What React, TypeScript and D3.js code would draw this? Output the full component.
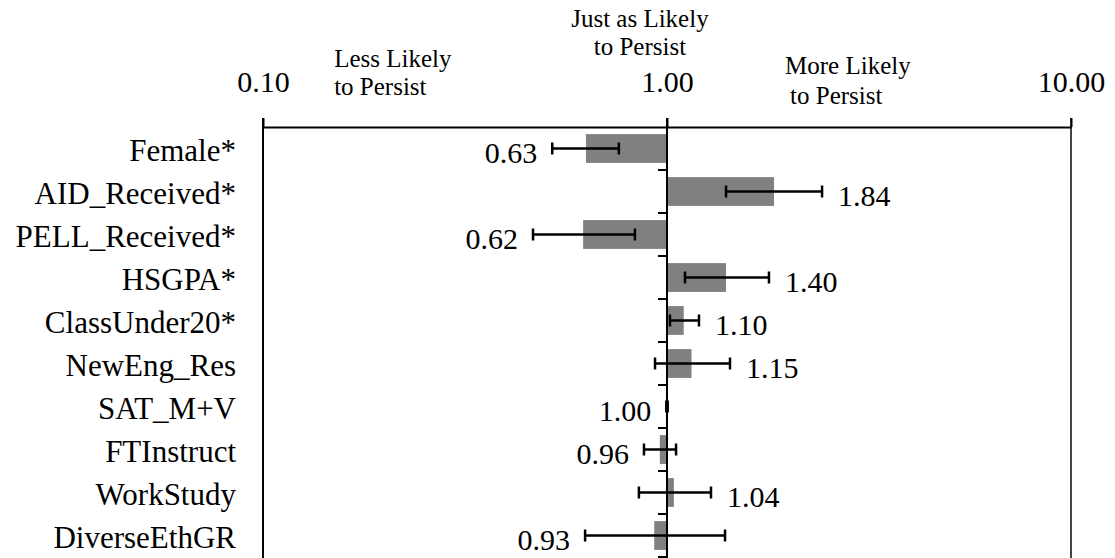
import { useEffect, useRef } from "react";
import * as d3 from "d3";

const categories = [
  "Female*",
  "AID_Received*",
  "PELL_Received*",
  "HSGPA*",
  "ClassUnder20*",
  "NewEng_Res",
  "SAT_M+V",
  "FTInstruct",
  "WorkStudy",
  "DiverseEthGR",
];
const oddsRatios = [0.63, 1.84, 0.62, 1.4, 1.1, 1.15, 1.0, 0.96, 1.04, 0.93];
const ciLow = [0.52, 1.4, 0.466, 1.108, 1.017, 0.934, 0.996, 0.877, 0.852, 0.627];
const ciHigh = [0.76, 2.42, 0.833, 1.788, 1.2, 1.432, 1.004, 1.053, 1.285, 1.392];
const tickValues = [0.1, 1, 10];

const annotations = [
  { lines: ["Less Likely", "to Persist"], at: 0.15, anchor: "start", top: 67, gap: 28, indent: 0 },
  { lines: ["Just as Likely", "to Persist"], at: 0.857, anchor: "middle", top: 27, gap: 28, indent: 0 },
  { lines: ["More Likely", "to Persist"], at: 1.96, anchor: "start", top: 74, gap: 30, indent: 5 },
];

const FONT = "'Liberation Serif', 'Times New Roman', serif";

export default function App() {
  const svgRef = useRef<SVGSVGElement>(null);
  const width = 1115;
  const height = 558;

  useEffect(() => {
    if (!svgRef.current) return;
    const svg = d3.select(svgRef.current);
    svg.selectAll("*").remove();

    const axisY = 127;
    const x = d3.scaleLog().domain([0.1, 10]).range([263, 1071]);
    const y = d3
      .scaleBand()
      .domain(categories)
      .range([axisY, axisY + 43 * categories.length]);
    const barH = y.bandwidth() * 0.67;
    const one = x(1);

    // plot border (left / right)
    svg
      .append("g")
      .selectAll("line")
      .data([0.1, 10])
      .enter()
      .append("line")
      .attr("x1", (d) => x(d))
      .attr("x2", (d) => x(d))
      .attr("y1", axisY - 9)
      .attr("y2", height)
      .attr("stroke", (d) => (d === 10 ? "#444" : "#000"))
      .attr("stroke-width", 2);

    // bars
    svg
      .append("g")
      .selectAll("rect")
      .data(categories)
      .enter()
      .append("rect")
      .attr("x", (_d, i) => Math.min(x(oddsRatios[i]), one))
      .attr("y", (d) => (y(d) || 0) + (y.bandwidth() - barH) / 2)
      .attr("width", (_d, i) => Math.abs(x(oddsRatios[i]) - one))
      .attr("height", barH)
      .attr("fill", "#808080");

    // category axis at 1.00
    const ya = svg.append("g").attr("transform", `translate(${one},0)`);
    ya.append("path")
      .attr("d", `M0,${axisY - 9}V${height}`)
      .attr("stroke", "#000")
      .attr("stroke-width", 2);
    ya.selectAll("line")
      .data(categories)
      .enter()
      .append("line")
      .attr("x1", -9)
      .attr("x2", 0)
      .attr("y1", (d) => (y(d) || 0) + y.step())
      .attr("y2", (d) => (y(d) || 0) + y.step())
      .attr("stroke", "#000")
      .attr("stroke-width", 2);

    // value axis on top
    const xAxis = d3
      .axisTop(x)
      .tickValues(tickValues)
      .tickFormat((d) => d3.format(".2f")(d as number))
      .tickSizeInner(9)
      .tickSizeOuter(0)
      .tickPadding(26);
    const xa = svg
      .append("g")
      .attr("transform", `translate(0,${axisY})`)
      .call(xAxis);
    xa.select(".domain").attr("stroke", "#000").attr("stroke-width", 2);
    xa.selectAll(".tick line").attr("stroke", "#000").attr("stroke-width", 2);
    xa.selectAll(".tick text")
      .attr("fill", "#000")
      .style("font-family", FONT)
      .style("font-size", "30px");

    // error bars
    const eb = svg
      .append("g")
      .selectAll("g")
      .data(categories)
      .enter()
      .append("g")
      .attr("transform", (d) => `translate(0,${(y(d) || 0) + y.bandwidth() / 2})`);
    eb.append("line")
      .attr("x1", (_d, i) => x(ciLow[i]))
      .attr("x2", (_d, i) => x(ciHigh[i]))
      .attr("stroke", "#000")
      .attr("stroke-width", 2.5);
    eb.selectAll("line.cap")
      .data((_d, i) => [ciLow[i], ciHigh[i]])
      .enter()
      .append("line")
      .attr("class", "cap")
      .attr("x1", (v) => x(v))
      .attr("x2", (v) => x(v))
      .attr("y1", -6)
      .attr("y2", 6)
      .attr("stroke", "#000")
      .attr("stroke-width", 2.5);

    // data labels
    svg
      .append("g")
      .selectAll("text")
      .data(categories)
      .enter()
      .append("text")
      .attr("x", (_d, i) =>
        oddsRatios[i] > 1 ? x(ciHigh[i]) + 16 : x(ciLow[i]) - 15,
      )
      .attr("y", (d) => (y(d) || 0) + y.bandwidth() / 2 + 14)
      .attr("text-anchor", (_d, i) => (oddsRatios[i] > 1 ? "start" : "end"))
      .style("font-family", FONT)
      .style("font-size", "30px")
      .text((_d, i) => d3.format(".2f")(oddsRatios[i]));

    // category labels
    svg
      .append("g")
      .selectAll("text")
      .data(categories)
      .enter()
      .append("text")
      .attr("x", 236)
      .attr("y", (d) => (y(d) || 0) + y.bandwidth() / 2 + 12)
      .attr("text-anchor", "end")
      .style("font-family", FONT)
      .style("font-size", "31px")
      .text((d) => d);

    // annotations
    const ann = svg
      .append("g")
      .selectAll("text")
      .data(annotations)
      .enter()
      .append("text")
      .attr("x", (d) => x(d.at))
      .attr("y", (d) => d.top)
      .attr("text-anchor", (d) => d.anchor)
      .style("font-family", FONT)
      .style("font-size", "25px");
    ann
      .selectAll("tspan")
      .data((d) =>
        d.lines.map((l, i) => ({ l, x: x(d.at) + (i ? d.indent : 0), gap: d.gap })),
      )
      .enter()
      .append("tspan")
      .attr("x", (t) => t.x)
      .attr("dy", (t, i) => (i === 0 ? 0 : t.gap))
      .text((t) => t.l);
  }, []);

  return (
    <svg
      ref={svgRef}
      width={width}
      height={height}
      style={{ position: "absolute", left: 0, top: 0, background: "#fff" }}
    />
  );
}
